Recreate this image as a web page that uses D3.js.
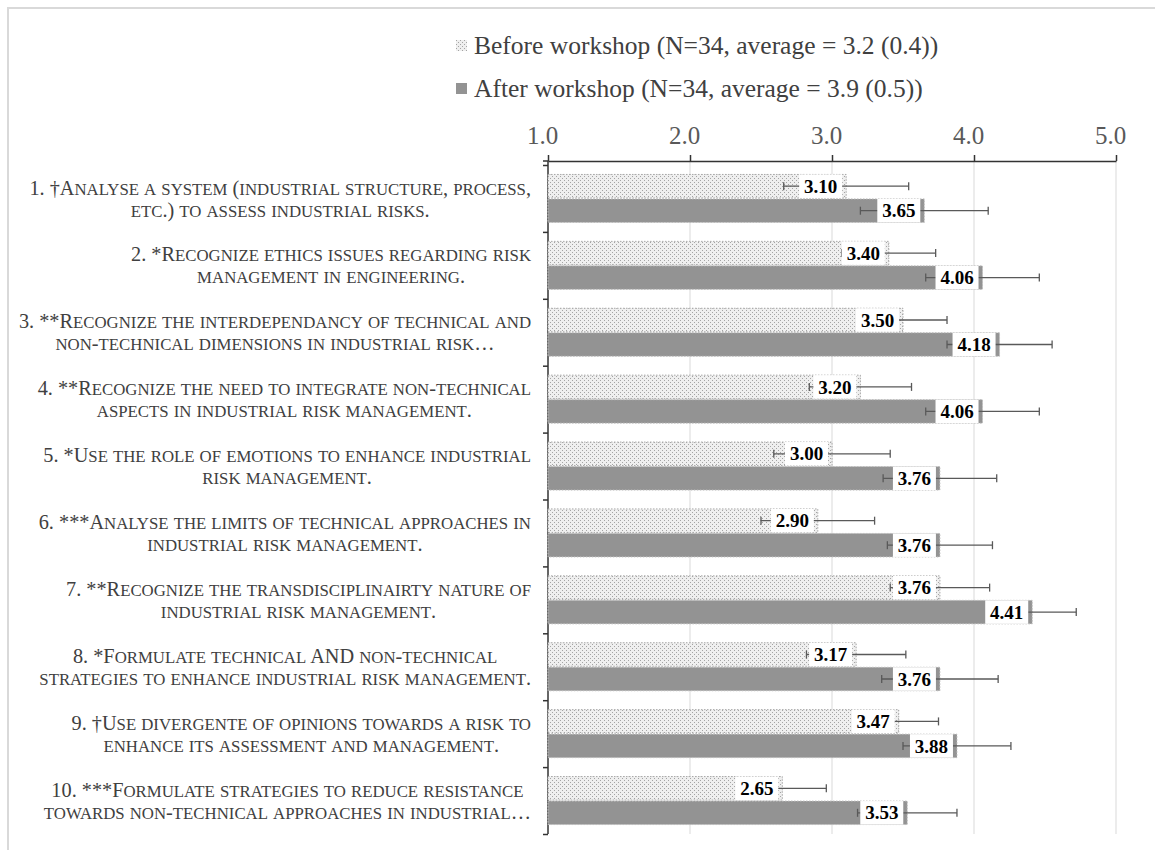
<!DOCTYPE html>
<html>
<head>
<meta charset="utf-8">
<script src="https://cdn.jsdelivr.net/npm/d3@7"></script>
<style>
  html, body { margin: 0; padding: 0; background: #fff; }
  svg { display: block; }
  text { font-family: "Liberation Serif", "Times New Roman", serif; white-space: pre; }
</style>
</head>
<body>
<svg id="chart" width="1155" height="850"></svg>
<script>
// Learning outcomes, each wrapped on two lines
const categories = [
  ["1. †Analyse a system (industrial structure, process,", "etc.) to assess industrial risks."],
  ["2. *Recognize ethics issues regarding risk", "management in engineering."],
  ["3. **Recognize the interdependancy of technical and", "non-technical dimensions in industrial risk…"],
  ["4. **Recognize the need to integrate non-technical", "aspects in industrial risk management."],
  ["5. *Use the role of emotions to enhance industrial", "risk management."],
  ["6. ***Analyse the limits of technical approaches in", "industrial risk management."],
  ["7. **Recognize the transdisciplinairty nature of", "industrial risk management."],
  ["8. *Formulate technical AND non-technical", "strategies to enhance industrial risk management."],
  ["9. †Use divergente of opinions towards a risk to", "enhance its assessment and management."],
  ["10. ***Formulate strategies to reduce resistance", "towards non-technical approaches in industrial…"]
];

// Mean self-assessment scores and their spread
const beforeMeans = [3.10, 3.40, 3.50, 3.20, 3.00, 2.90, 3.76, 3.17, 3.47, 2.65];
const afterMeans  = [3.65, 4.06, 4.18, 4.06, 3.76, 3.76, 4.41, 3.76, 3.88, 3.53];
const beforeSD    = [0.44, 0.33, 0.31, 0.36, 0.41, 0.40, 0.35, 0.35, 0.28, 0.31];
const afterSD     = [0.45, 0.40, 0.37, 0.40, 0.40, 0.37, 0.31, 0.41, 0.38, 0.35];

const tickValues = [1.0, 2.0, 3.0, 4.0, 5.0];
const seriesNames = [
  "Before workshop (N=34, average = 3.2 (0.4))",
  "After workshop (N=34, average = 3.9 (0.5))"
];

const svg = d3.select("#chart");
const plot = { left: 548, right: 1116, axisY: 161, top: 165, bottom: 834 };
const labelRight = 531;
const barH = 23.5;
const BIG = 20.3, SMALL = 16.8;   // small-caps sizes for the category labels

const x = d3.scaleLinear().domain([1, 5]).range([plot.left, plot.right]);
const y = d3.scaleBand().domain(d3.range(categories.length)).range([plot.top, plot.bottom]);
const yEdges = d3.scaleLinear().domain([0, categories.length]).range([plot.top, plot.bottom]);

// Chart border
svg.append("path")
  .attr("d", "M8,850V8H1155")
  .attr("fill", "none")
  .attr("stroke", "#d9d9d9")
  .attr("stroke-width", 2);

// Dotted fill for the "before" series
const defs = svg.append("defs");
const pat = defs.append("pattern")
  .attr("id", "dots")
  .attr("width", 4).attr("height", 4)
  .attr("patternUnits", "userSpaceOnUse");
pat.append("rect").attr("width", 4).attr("height", 4).attr("fill", "#efefef");
pat.append("rect").attr("x", 0).attr("y", 0).attr("width", 1).attr("height", 1).attr("fill", "#a4a4a4");
pat.append("rect").attr("x", 2).attr("y", 2).attr("width", 1).attr("height", 1).attr("fill", "#a4a4a4");

// Legend
const legend = svg.append("g");
const legendY = [45, 88];
seriesNames.forEach((name, i) => {
  legend.append("rect")
    .attr("x", 456).attr("y", legendY[i] - 5)
    .attr("width", 11).attr("height", 11)
    .attr("fill", i === 0 ? "url(#dots)" : "#939393");
  legend.append("text")
    .attr("x", 474).attr("y", legendY[i])
    .attr("dy", "0.35em")
    .attr("font-size", 25.5)
    .attr("fill", "#404040")
    .text(name);
});

// Vertical gridlines
svg.append("g")
  .selectAll("line")
  .data(tickValues.filter(v => v > 1))
  .join("line")
  .attr("x1", d => x(d)).attr("x2", d => x(d))
  .attr("y1", plot.axisY).attr("y2", plot.bottom)
  .attr("stroke", "#d9d9d9")
  .attr("stroke-width", 1);

// Value axis along the top
const xAxis = svg.append("g")
  .attr("transform", `translate(0,${plot.axisY})`)
  .call(d3.axisTop(x).tickValues(tickValues).tickFormat(d3.format(".1f")).tickSize(6).tickSizeOuter(0).tickPadding(11));
xAxis.select(".domain").attr("stroke", "#333").attr("stroke-width", 1.5);
xAxis.selectAll(".tick line").attr("stroke", "#333").attr("stroke-width", 1.5);
xAxis.selectAll(".tick text")
  .attr("font-size", 25)
  .attr("font-family", "'Liberation Serif', 'Times New Roman', serif")
  .attr("fill", "#595959")
  .attr("dx", -6);

// Category axis with ticks between categories
const yAxis = svg.append("g")
  .attr("transform", `translate(${plot.left},0)`)
  .call(d3.axisLeft(yEdges).ticks(categories.length).tickFormat("").tickSize(5).tickSizeOuter(0));
yAxis.select(".domain").attr("stroke", "#333").attr("stroke-width", 1.5)
  .attr("d", `M0,${plot.axisY}V${plot.bottom}`);
yAxis.selectAll(".tick line").attr("stroke", "#333").attr("stroke-width", 1.5);
svg.append("line")
  .attr("x1", plot.left - 5).attr("x2", plot.left)
  .attr("y1", plot.axisY).attr("y2", plot.axisY)
  .attr("stroke", "#333").attr("stroke-width", 1.5);

// Small-caps runs: lowercase letters become smaller capitals
function addRuns(sel, str) {
  const runs = [];
  for (const ch of str) {
    const small = ch !== ch.toUpperCase();
    const last = runs[runs.length - 1];
    if (last && last.small === small) last.s += ch;
    else runs.push({ small, s: ch });
  }
  runs.forEach(r => sel.append("tspan")
    .attr("font-size", r.small ? SMALL : BIG)
    .text(r.small ? r.s.toUpperCase() : r.s));
}

// Category labels: lines centred within a right-aligned block
const labels = svg.append("g").attr("fill", "#404040");
categories.forEach((lines, i) => {
  const cy = y(i) + y.bandwidth() / 2;
  const g = labels.append("g");
  const texts = lines.map((ln, k) => {
    const t = g.append("text")
      .attr("y", cy + (k === 0 ? -11 : 11))
      .attr("dy", "0.35em")
      .attr("font-size", BIG)
      .attr("text-anchor", "middle");
    addRuns(t, ln);
    return t;
  });
  const widest = d3.max(texts, t => t.node().getComputedTextLength());
  texts.forEach(t => t.attr("x", labelRight - widest / 2));
});

// Bars, error bars and value labels
const series = [
  { means: beforeMeans, sd: beforeSD, offset: -barH - 0.5, fill: "url(#dots)", stroke: "#a8a8a8" },
  { means: afterMeans,  sd: afterSD,  offset: 0.5,         fill: "#939393",    stroke: "#bdbdbd" }
];

series.forEach(s => {
  const g = svg.append("g");
  const rows = s.means.map((v, i) => ({ v, sd: s.sd[i], top: y(i) + y.bandwidth() / 2 + s.offset }));

  g.selectAll("rect.bar")
    .data(rows)
    .join("rect")
    .attr("class", "bar")
    .attr("x", x(1))
    .attr("y", d => d.top)
    .attr("width", d => x(d.v) - x(1))
    .attr("height", barH)
    .attr("fill", s.fill)
    .attr("stroke", s.stroke)
    .attr("stroke-width", 1)
    .attr("stroke-dasharray", "1.5,1.5");

  const eb = g.selectAll("g.err").data(rows).join("g").attr("class", "err")
    .attr("stroke", "#595959").attr("stroke-width", 1.3);
  eb.append("line")
    .attr("x1", d => x(d.v - d.sd)).attr("x2", d => x(d.v + d.sd))
    .attr("y1", d => d.top + barH / 2).attr("y2", d => d.top + barH / 2);
  eb.append("line")
    .attr("x1", d => x(d.v - d.sd)).attr("x2", d => x(d.v - d.sd))
    .attr("y1", d => d.top + barH / 2 - 4).attr("y2", d => d.top + barH / 2 + 4);
  eb.append("line")
    .attr("x1", d => x(d.v + d.sd)).attr("x2", d => x(d.v + d.sd))
    .attr("y1", d => d.top + barH / 2 - 4).attr("y2", d => d.top + barH / 2 + 4);

  const boxW = 43;
  const lab = g.selectAll("g.lab").data(rows).join("g").attr("class", "lab");
  lab.append("rect")
    .attr("x", d => x(d.v) - 4 - boxW)
    .attr("y", d => d.top)
    .attr("width", boxW)
    .attr("height", barH)
    .attr("fill", "#fff");
  lab.append("text")
    .attr("x", d => x(d.v) - 4 - boxW / 2)
    .attr("y", d => d.top + barH / 2)
    .attr("dy", "0.35em")
    .attr("text-anchor", "middle")
    .attr("font-size", 19)
    .attr("font-weight", "bold")
    .attr("fill", "#000")
    .text(d => d.v.toFixed(2));
});
</script>
</body>
</html>
